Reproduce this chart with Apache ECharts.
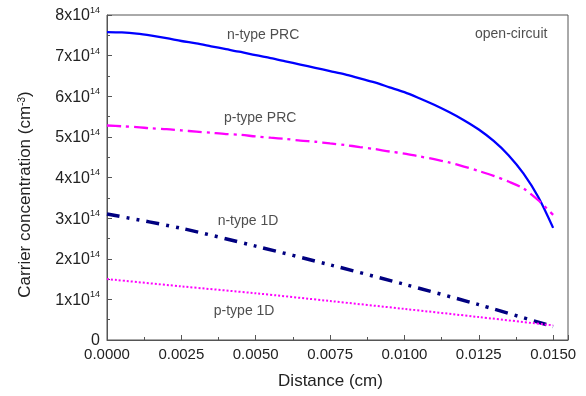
<!DOCTYPE html>
<html><head><meta charset="utf-8">
<script src="https://cdn.jsdelivr.net/npm/echarts@6/dist/echarts.min.js"></script>
<style>html,body{margin:0;padding:0;background:#fff}#c{width:586px;height:396px}</style>
</head><body><div id="c"></div>
<script>
// Values in units of 1e14 cm^-3, distance in cm
const prcX = [0, 0.0005, 0.001, 0.0015, 0.002, 0.0025, 0.003, 0.0035, 0.004, 0.0045, 0.005, 0.0055, 0.006, 0.0065, 0.007, 0.0075,
  0.008, 0.0085, 0.009, 0.0095, 0.01, 0.0105, 0.011, 0.0115, 0.012, 0.0125, 0.013, 0.0135, 0.014, 0.0145, 0.015];
const nPRC = [7.58, 7.57, 7.54, 7.49, 7.43, 7.36, 7.30, 7.23, 7.16, 7.09, 7.01, 6.94, 6.86, 6.78, 6.70, 6.62,
  6.54, 6.44, 6.34, 6.22, 6.10, 5.95, 5.79, 5.61, 5.41, 5.18, 4.90, 4.55, 4.10, 3.52, 2.76];
const pPRC = [5.28, 5.26, 5.24, 5.21, 5.19, 5.16, 5.13, 5.10, 5.07, 5.05, 5.01, 4.98, 4.95, 4.91, 4.88, 4.84,
  4.80, 4.75, 4.70, 4.64, 4.59, 4.52, 4.45, 4.37, 4.27, 4.16, 4.04, 3.90, 3.73, 3.44, 3.08];
const oneDX = [0, 0.0025, 0.005, 0.0075, 0.01, 0.0125, 0.015];
const n1D = [3.10, 2.75, 2.31, 1.85, 1.37, 0.87, 0.33];
const p1D = [1.50, 1.32, 1.15, 0.96, 0.765, 0.565, 0.36];
const annoText = ['n-type PRC', 'open-circuit', 'p-type PRC', 'n-type 1D', 'p-type 1D'];
const annoX = [0.00525, 0.01359, 0.00515, 0.00474, 0.00461];
const annoY = [7.50, 7.53, 5.45, 2.93, 0.70];
const yTickLabels = ['0', '1', '2', '3', '4', '5', '6', '7', '8'];

const zip = (xs, ys) => xs.map((x, i) => [x, ys[i]]);
const FONT = 'Liberation Sans, Arial, sans-serif';
const axisColor = '#555';
const chart = echarts.init(document.getElementById('c'), null, {renderer: 'canvas'});
chart.setOption({
  animation: false,
  grid: {left: 107, right: 18, top: 15, bottom: 56, show: true, borderColor: axisColor, borderWidth: 1, containLabel: false, outerBoundsMode: 'none'},
  xAxis: {
    type: 'value', min: 0, max: 0.0155, interval: 0.0025,
    name: 'Distance (cm)', nameLocation: 'middle', nameGap: 33,
    nameTextStyle: {fontFamily: FONT, fontSize: 17, color: '#222', padding: [0, 14, 0, 0]},
    axisLine: {show: true, lineStyle: {color: axisColor, width: 1}},
    axisTick: {show: true, inside: true, length: 5, lineStyle: {color: axisColor}},
    minorTick: {show: true, splitNumber: 2, length: 3, lineStyle: {color: axisColor}},
    splitLine: {show: false}, minorSplitLine: {show: false},
    axisLabel: {fontFamily: FONT, fontSize: 15, color: '#222', margin: 7, showMaxLabel: false,
      formatter: v => v.toFixed(4)}
  },
  yAxis: {
    type: 'value', min: 0, max: 8, interval: 1,
    name: 'Carrier concentration (cm{s|-3})', nameLocation: 'middle', nameGap: 73,
    nameTextStyle: {fontFamily: FONT, fontSize: 17, color: '#222', padding: [0, 34, 0, 0],
      rich: {s: {fontFamily: FONT, fontSize: 10, verticalAlign: 'top', lineHeight: 10, color: '#222'}}},
    axisLine: {show: true, lineStyle: {color: axisColor, width: 1}},
    axisTick: {show: true, inside: true, length: 5, lineStyle: {color: axisColor}},
    minorTick: {show: true, splitNumber: 2, length: 3, lineStyle: {color: axisColor}},
    splitLine: {show: false}, minorSplitLine: {show: false},
    axisLabel: {fontFamily: FONT, fontSize: 16, color: '#222', margin: 7,
      formatter: (v) => { const t = yTickLabels[Math.round(v)]; return t === '0' ? '{b|0}' : '{b|' + t + 'x10}{s|14}'; },
      rich: {
        b: {fontFamily: FONT, fontSize: 16, color: '#222', lineHeight: 18, verticalAlign: 'bottom'},
        s: {fontFamily: FONT, fontSize: 9, color: '#222', lineHeight: 9, verticalAlign: 'top'}
      }}
  },
  series: [
    {type: 'line', data: zip(prcX, nPRC), smooth: 0.3, showSymbol: false,
      lineStyle: {color: '#0000ff', width: 2.3}},
    {type: 'line', data: zip(prcX, pPRC), smooth: 0.3, showSymbol: false,
      lineStyle: {color: '#ff00ff', width: 2.3, type: [14, 5, 3, 5]}},
    {type: 'line', data: zip(oneDX, n1D), smooth: 0.3, showSymbol: false,
      lineStyle: {color: '#000080', width: 3.5, type: [13, 7, 3, 7, 3, 7]}},
    {type: 'line', data: zip(oneDX, p1D), smooth: 0.3, showSymbol: false,
      lineStyle: {color: '#ff00ff', width: 2, type: [2, 2]}},
    {type: 'scatter', symbolSize: 0, silent: true,
      data: annoText.map((t, i) => ({name: t, value: [annoX[i], annoY[i]]})),
      label: {show: true, position: 'inside', formatter: p => p.name, fontFamily: FONT, fontSize: 14, color: '#222'}}
  ]
});
</script></body></html>
